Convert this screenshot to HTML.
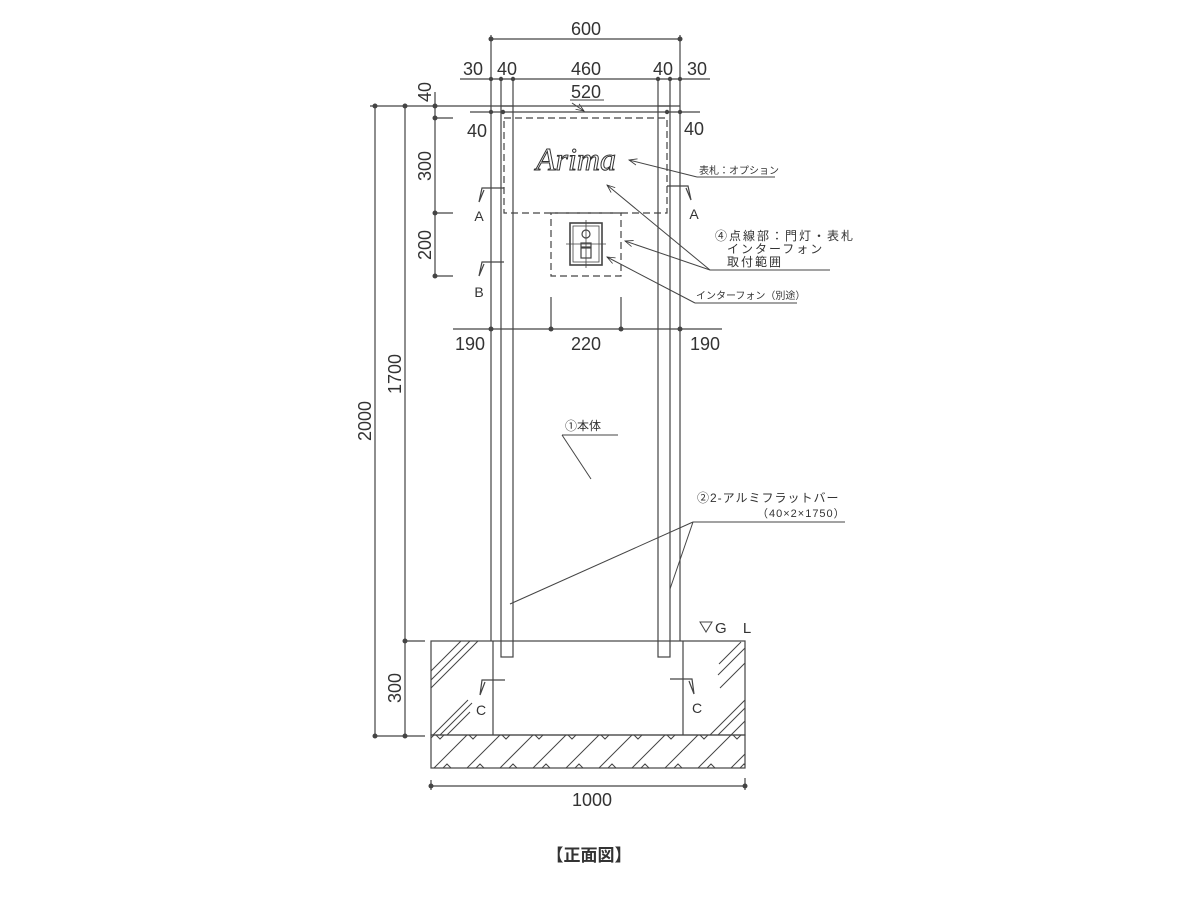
<!DOCTYPE html>
<html><head><meta charset="utf-8"><style>
html,body{margin:0;padding:0;background:#fff;}
svg{display:block;}
text{font-family:"Liberation Sans","Noto Sans CJK JP",sans-serif;fill:#333;}
.d{font-size:18px;}
.s{font-size:10px;}
.m{font-size:12px;letter-spacing:2px;}
.arima{font-family:"Liberation Serif",serif;font-style:italic;font-size:32px;fill:none;stroke:#333;stroke-width:1;}
</style></head><body>
<svg width="1199" height="899" viewBox="0 0 1199 899" xmlns="http://www.w3.org/2000/svg">
<defs>
<marker id="ar" viewBox="0 0 10 10" refX="10" refY="5" markerWidth="10" markerHeight="8" orient="auto-start-reverse" markerUnits="userSpaceOnUse">
<path d="M0,1 L10,5 L0,9" fill="none" stroke="#333" stroke-width="1"/></marker>
<clipPath id="fc"><rect x="431" y="735" width="314" height="33"/></clipPath>
</defs>
<g stroke="#444" stroke-width="1.2" fill="none">
<line x1="491" y1="39" x2="680" y2="39"/>
<line x1="460" y1="79" x2="710" y2="79"/>
<line x1="491" y1="35" x2="491" y2="106"/><line x1="680" y1="35" x2="680" y2="106"/>
<line x1="501" y1="79" x2="501" y2="106"/><line x1="513" y1="79" x2="513" y2="106"/>
<line x1="658" y1="79" x2="658" y2="106"/><line x1="670" y1="79" x2="670" y2="106"/>
<line x1="570" y1="100" x2="604" y2="100" stroke-width="1"/>
<line x1="572" y1="103" x2="584" y2="111" marker-end="url(#ar)" stroke-width="1"/>
<line x1="470" y1="106" x2="680" y2="106"/>
<line x1="470" y1="112" x2="700" y2="112"/>
<line x1="491" y1="106" x2="491" y2="641"/><line x1="680" y1="106" x2="680" y2="641"/>
<rect x="501" y="106" width="12" height="551"/>
<rect x="658" y="106" width="12" height="551"/>
<rect x="504" y="118" width="163" height="95" stroke-dasharray="7,4"/>
<rect x="551" y="213" width="70" height="63" stroke-dasharray="7,4"/>
<rect x="570" y="223" width="32" height="42" stroke-width="1.6"/>
<rect x="573" y="226" width="26" height="36" stroke-width="0.8"/>
<circle cx="586" cy="234" r="4"/>
<rect x="581" y="243" width="10" height="4"/>
<rect x="581" y="248" width="10" height="10"/>
<line x1="586" y1="220" x2="586" y2="268" stroke-width="0.8"/>
<line x1="566" y1="244" x2="606" y2="244" stroke-width="0.8"/>
<line x1="375" y1="106" x2="375" y2="736"/>
<line x1="405" y1="106" x2="405" y2="641"/>
<line x1="435" y1="92" x2="435" y2="276"/>
<line x1="370" y1="106" x2="470" y2="106"/>
<line x1="435" y1="118" x2="453" y2="118"/><line x1="435" y1="213" x2="453" y2="213"/><line x1="435" y1="276" x2="453" y2="276"/>
<line x1="405" y1="641" x2="425" y2="641"/>
<line x1="375" y1="736" x2="425" y2="736"/>
<line x1="405" y1="641" x2="405" y2="736"/>
<polyline points="504,188 482,188 479,202 484,190"/>
<polyline points="504,262 482,262 479,276 484,264"/>
<polyline points="667,186 688,186 691,200 686,188"/>
<polyline points="505,680 482,680 480,695 485,682"/>
<polyline points="670,679 692,679 694,694 689,681"/>
<line x1="453" y1="329" x2="722" y2="329"/>
<line x1="551" y1="297" x2="551" y2="329"/><line x1="621" y1="297" x2="621" y2="329"/>
<line x1="775" y1="177" x2="697" y2="177" stroke-width="1"/>
<line x1="697" y1="177" x2="629" y2="160" marker-end="url(#ar)" stroke-width="1"/>
<line x1="830" y1="270" x2="710" y2="270" stroke-width="1"/>
<line x1="710" y1="270" x2="607" y2="185" marker-end="url(#ar)" stroke-width="1"/>
<line x1="710" y1="270" x2="625" y2="241" marker-end="url(#ar)" stroke-width="1"/>
<line x1="797" y1="303" x2="695" y2="303" stroke-width="1"/>
<line x1="695" y1="303" x2="607" y2="257" marker-end="url(#ar)" stroke-width="1"/>
<line x1="562" y1="435" x2="618" y2="435" stroke-width="1"/>
<line x1="562" y1="435" x2="591" y2="479" stroke-width="1"/>
<line x1="845" y1="522" x2="693" y2="522" stroke-width="1"/>
<line x1="693" y1="522" x2="510" y2="604" stroke-width="1"/>
<line x1="693" y1="522" x2="670" y2="589" stroke-width="1"/>
<rect x="431" y="641" width="314" height="94"/>
<line x1="493" y1="641" x2="493" y2="735"/><line x1="683" y1="641" x2="683" y2="735"/>
<rect x="431" y="735" width="314" height="33"/>
<g clip-path="url(#fc)" stroke-width="1">
<path d="M434,768 l33,-33 M467,768 l33,-33 M500,768 l33,-33 M533,768 l33,-33 M566,768 l33,-33 M599,768 l33,-33 M632,768 l33,-33 M665,768 l33,-33 M698,768 l33,-33 M731,768 l33,-33 M401,768 l33,-33"/>
<path d="M443,768 l4,-4 l4,4 M476,768 l4,-4 l4,4 M509,768 l4,-4 l4,4 M542,768 l4,-4 l4,4 M575,768 l4,-4 l4,4 M608,768 l4,-4 l4,4 M641,768 l4,-4 l4,4 M674,768 l4,-4 l4,4 M707,768 l4,-4 l4,4 M740,768 l4,-4 l4,4"/>
<path d="M436,735 l4,4 l4,-4 M469,735 l4,4 l4,-4 M502,735 l4,4 l4,-4 M535,735 l4,4 l4,-4 M568,735 l4,4 l4,-4 M601,735 l4,4 l4,-4 M634,735 l4,4 l4,-4 M667,735 l4,4 l4,-4 M700,735 l4,4 l4,-4 M733,735 l4,4 l4,-4"/>
</g>
<path d="M431,671 l30,-30 M431,680 l39,-39 M431,688 l47,-47 M433,735 l35,-35 M440,735 l32,-32 M447,735 l23,-23 M719,664 l22,-22 M718,675 l27,-27 M720,688 l25,-25 M710,735 l35,-35 M718,735 l27,-27 M731,735 l14,-14" stroke-width="1"/>
<line x1="431" y1="786" x2="745" y2="786"/>
<line x1="431" y1="780" x2="431" y2="790"/><line x1="745" y1="778" x2="745" y2="790"/>
<path d="M700,622 h12 l-6,10 z" stroke-width="1"/>
</g>
<g fill="#444">
<circle cx="491" cy="39" r="2.5"/><circle cx="680" cy="39" r="2.5"/>
<circle cx="491" cy="79" r="2.2"/><circle cx="501" cy="79" r="2.2"/><circle cx="513" cy="79" r="2.2"/><circle cx="658" cy="79" r="2.2"/><circle cx="670" cy="79" r="2.2"/><circle cx="680" cy="79" r="2.2"/>
<circle cx="491" cy="112" r="2.2"/><circle cx="503" cy="112" r="2.2"/><circle cx="667" cy="112" r="2.2"/><circle cx="680" cy="112" r="2.2"/>
<circle cx="375" cy="106" r="2.5"/><circle cx="405" cy="106" r="2.5"/><circle cx="435" cy="106" r="2.5"/>
<circle cx="435" cy="118" r="2.5"/><circle cx="435" cy="213" r="2.5"/><circle cx="435" cy="276" r="2.5"/>
<circle cx="405" cy="641" r="2.5"/><circle cx="375" cy="736" r="2.5"/><circle cx="405" cy="736" r="2.5"/>
<circle cx="491" cy="329" r="2.5"/><circle cx="551" cy="329" r="2.5"/><circle cx="621" cy="329" r="2.5"/><circle cx="680" cy="329" r="2.5"/>
<circle cx="431" cy="786" r="2.5"/><circle cx="745" cy="786" r="2.5"/>
</g>
<g class="d" text-anchor="middle">
<text x="586" y="35">600</text>
<text x="473" y="75">30</text><text x="507" y="75">40</text><text x="586" y="75">460</text><text x="663" y="75">40</text><text x="697" y="75">30</text>
<text x="586" y="98">520</text>
<text x="477" y="137">40</text><text x="694" y="135">40</text>
<text x="470" y="350">190</text><text x="586" y="350">220</text><text x="705" y="350">190</text>
<text x="592" y="806">1000</text>
<text transform="translate(431,92) rotate(-90)">40</text>
<text transform="translate(431,166) rotate(-90)">300</text>
<text transform="translate(431,245) rotate(-90)">200</text>
<text transform="translate(401,374) rotate(-90)">1700</text>
<text transform="translate(371,421) rotate(-90)">2000</text>
<text transform="translate(401,688) rotate(-90)">300</text>
</g>
<g font-size="14" text-anchor="middle">
<text x="479" y="221">A</text><text x="479" y="297">B</text><text x="694" y="219">A</text>
<text x="481" y="715">C</text><text x="697" y="713">C</text>
</g>
<text x="715" y="633" font-size="15" letter-spacing="6">G L</text>
<text class="arima" x="536" y="170">Arima</text>
<text class="s" x="699" y="174">表札：オプション</text>
<text class="m" x="715" y="240">④点線部：門灯・表札</text>
<text class="m" x="727" y="253">インターフォン</text>
<text class="m" x="727" y="266">取付範囲</text>
<text class="s" x="696" y="299">インターフォン（別途）</text>
<text x="565" y="430" font-size="12">①本体</text>
<text x="697" y="502" font-size="12" letter-spacing="1">②2-アルミフラットバー</text>
<text x="757" y="517" font-size="11" letter-spacing="1">（40×2×1750）</text>
<text x="589" y="861" font-size="17" font-weight="bold" text-anchor="middle">【正面図】</text>
</svg>
</body></html>
